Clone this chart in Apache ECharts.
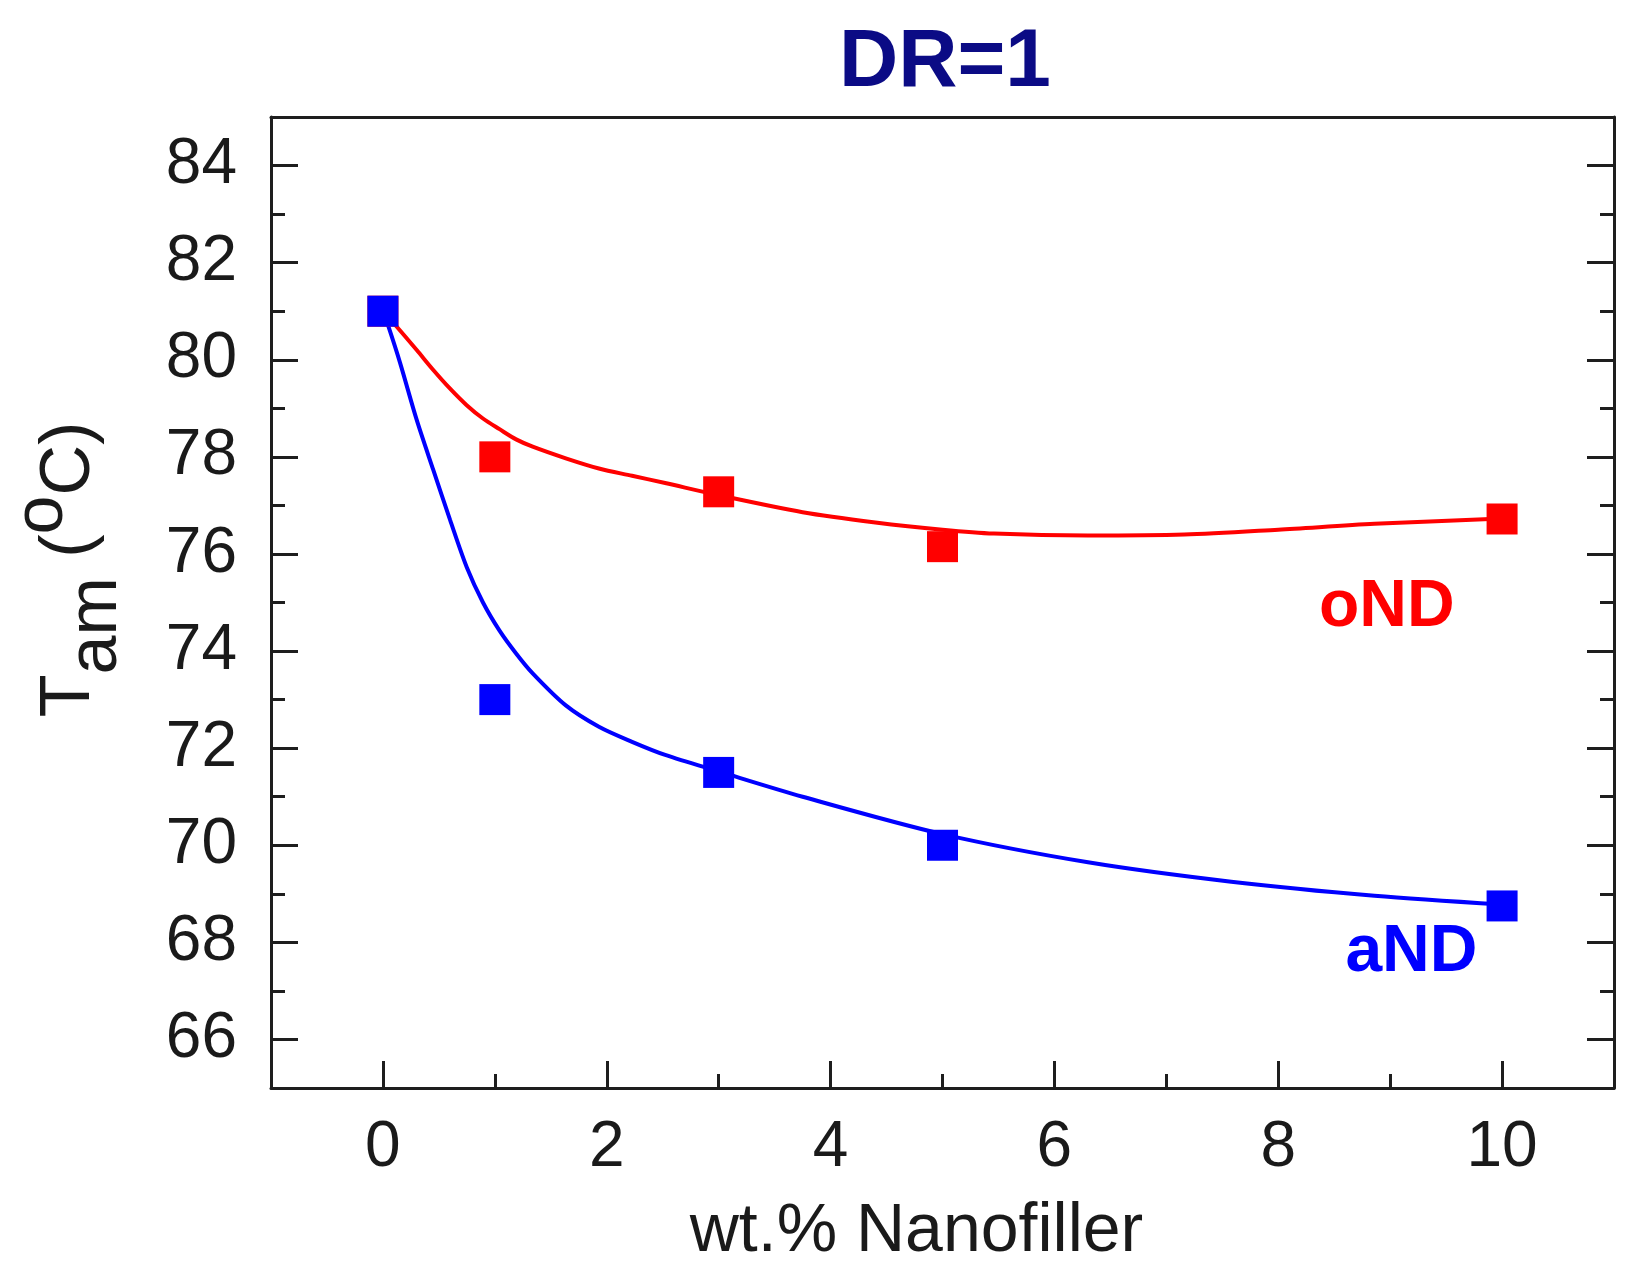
<!DOCTYPE html>
<html>
<head>
<meta charset="utf-8">
<script src="https://cdn.jsdelivr.net/npm/echarts@6/dist/echarts.min.js"></script>
<style>
  html, body { margin: 0; padding: 0; background: #fff; }
  #main { width: 1638px; height: 1273px; }
</style>
</head>
<body>
<div id="main"></div>
<script>
// measured points (wt.% nanofiller, Tam in oC)
const fillerPct = [0, 1, 3, 5, 10];
const oNDValues = [81, 78, 77.28, 76.15, 76.72];
const aNDValues = [81, 73, 71.5, 70.0, 68.75];

// fitted curves
const oNDFitX = [0, 0.124, 0.302, 0.45, 0.598, 0.746, 0.894, 1.042, 1.19, 1.338, 1.634, 1.93, 2.226, 2.522, 3.0, 3.75, 4.4, 5.0, 5.46, 6.3, 7.16, 8.0, 8.86, 10];
const oNDFitY = [81, 80.68, 80.2, 79.79, 79.41, 79.07, 78.79, 78.57, 78.36, 78.21, 77.97, 77.76, 77.61, 77.46, 77.21, 76.86, 76.65, 76.5, 76.42, 76.38, 76.4, 76.5, 76.62, 76.73];
const aNDFitX = [0, 0.05, 0.154, 0.302, 0.45, 0.6, 0.75, 0.894, 1.042, 1.19, 1.338, 1.634, 1.93, 2.226, 2.522, 3.0, 3.75, 5.0, 6.3, 7.58, 8.86, 10];
const aNDFitY = [81, 80.68, 79.93, 78.76, 77.73, 76.7, 75.72, 75.0, 74.42, 73.95, 73.54, 72.88, 72.44, 72.13, 71.86, 71.52, 71.0, 70.23, 69.65, 69.25, 68.96, 68.78];

// series labels
const seriesNames = ['oND', 'aND'];
const labelX = [8.97, 9.19];
const labelY = [74.9, 67.78];

// ticks
const xTicks = [0, 2, 4, 6, 8, 10];
const xMinorTicks = [1, 3, 5, 7, 9];
const yTicks = [66, 68, 70, 72, 74, 76, 78, 80, 82, 84];
const yMinorTicks = [67, 69, 71, 73, 75, 77, 79, 81, 83];

const RED = '#ff0000';
const BLUE = '#0000ff';
const AXIS = '#1e1e1e';
const FONT = '"Liberation Sans", Arial, sans-serif';

const zip = (xs, ys) => xs.map((x, i) => [x, ys[i]]);

let myChart = echarts.init(document.getElementById('main'));

function xAx(extra) {
    return Object.assign({
        type: 'value', min: -1, max: 11, position: 'bottom',
        axisLine: { show: false, onZero: false },
        axisTick: { show: false },
        axisLabel: { show: false },
        splitLine: { show: false }
    }, extra);
}
function yAx(extra) {
    return Object.assign({
        type: 'value', min: 65, max: 85, position: 'left',
        axisLine: { show: false, onZero: false },
        axisTick: { show: false },
        axisLabel: { show: false },
        splitLine: { show: false }
    }, extra);
}

const lineAxis = { show: true, onZero: false, lineStyle: { color: AXIS, width: 3 } };
const majorTick = (vals) => ({ show: true, inside: true, length: 27, customValues: vals, lineStyle: { color: AXIS, width: 3 } });
const minorTick = (vals) => ({ show: true, inside: true, length: 14, customValues: vals, lineStyle: { color: AXIS, width: 3 } });

let option = {
    backgroundColor: '#fff',
    animation: false,
    title: {
        text: 'DR=1',
        left: 940,
        top: 17,
        textAlign: 'center',
        textStyle: { fontFamily: FONT, fontWeight: 'bold', fontSize: 82, color: '#0b0b85' }
    },
    grid: { left: 263, right: 24, top: 117, bottom: 185, containLabel: false },
    xAxis: [
        xAx({
            axisLine: lineAxis,
            axisTick: majorTick(xTicks),
            axisLabel: { show: true, customValues: xTicks, margin: 28, fontFamily: FONT, fontSize: 64, color: '#1a1a1a' },
            name: 'wt.% Nanofiller',
            nameLocation: 'middle',
            nameGap: 110,
            nameTextStyle: { fontFamily: FONT, fontSize: 68, color: '#1a1a1a', padding: [0, 52, 0, 0] }
        }),
        xAx({ axisTick: minorTick(xMinorTicks) }),
        xAx({ position: 'top', axisLine: lineAxis })
    ],
    yAxis: [
        yAx({
            axisLine: lineAxis,
            axisTick: majorTick(yTicks),
            axisLabel: { show: true, customValues: yTicks, margin: 34, fontFamily: FONT, fontSize: 64, color: '#1a1a1a' },
            name: '{t|T}{sub|am}{t| (}{sup|o}{t|C)}',
            nameLocation: 'middle',
            nameRotate: 90,
            nameGap: 139,
            nameTextStyle: {
                fontFamily: FONT, fontSize: 70, color: '#1a1a1a',
                padding: [0, 0, 0, 66],
                rich: {
                    t: { fontFamily: FONT, fontSize: 70, color: '#1a1a1a', lineHeight: 124, verticalAlign: 'middle' },
                    sub: { fontFamily: FONT, fontSize: 70, color: '#1a1a1a', lineHeight: 70, verticalAlign: 'bottom' },
                    sup: { fontFamily: FONT, fontSize: 70, color: '#1a1a1a', lineHeight: 54, verticalAlign: 'top' }
                }
            }
        }),
        yAx({ axisTick: minorTick(yMinorTicks) }),
        yAx({ position: 'right', axisLine: lineAxis, axisTick: majorTick(yTicks) }),
        yAx({ position: 'right', axisTick: minorTick(yMinorTicks) })
    ],
    series: [
        {
            name: 'oND fit', type: 'line', smooth: 0.3, showSymbol: false,
            data: zip(oNDFitX, oNDFitY),
            lineStyle: { color: RED, width: 4 }, z: 2
        },
        {
            name: 'aND fit', type: 'line', smooth: 0.3, showSymbol: false,
            data: zip(aNDFitX, aNDFitY),
            lineStyle: { color: BLUE, width: 4 }, z: 2
        },
        {
            name: 'oND', type: 'scatter', symbol: 'rect', symbolSize: 31,
            data: zip(fillerPct, oNDValues),
            itemStyle: { color: RED, opacity: 1 }, z: 3
        },
        {
            name: 'aND', type: 'scatter', symbol: 'rect', symbolSize: 31,
            data: zip(fillerPct, aNDValues),
            itemStyle: { color: BLUE, opacity: 1 }, z: 3
        },
        {
            name: 'labels', type: 'scatter', symbolSize: 0, silent: true,
            itemStyle: { opacity: 1 },
            data: seriesNames.map((n, i) => ({
                name: n, value: [labelX[i], labelY[i]],
                label: { color: i === 0 ? RED : BLUE }
            })),
            label: {
                show: true, position: 'inside', formatter: '{b}',
                fontFamily: FONT, fontWeight: 'bold', fontSize: 66
            }
        }
    ]
};

myChart.setOption(option);
</script>
</body>
</html>
